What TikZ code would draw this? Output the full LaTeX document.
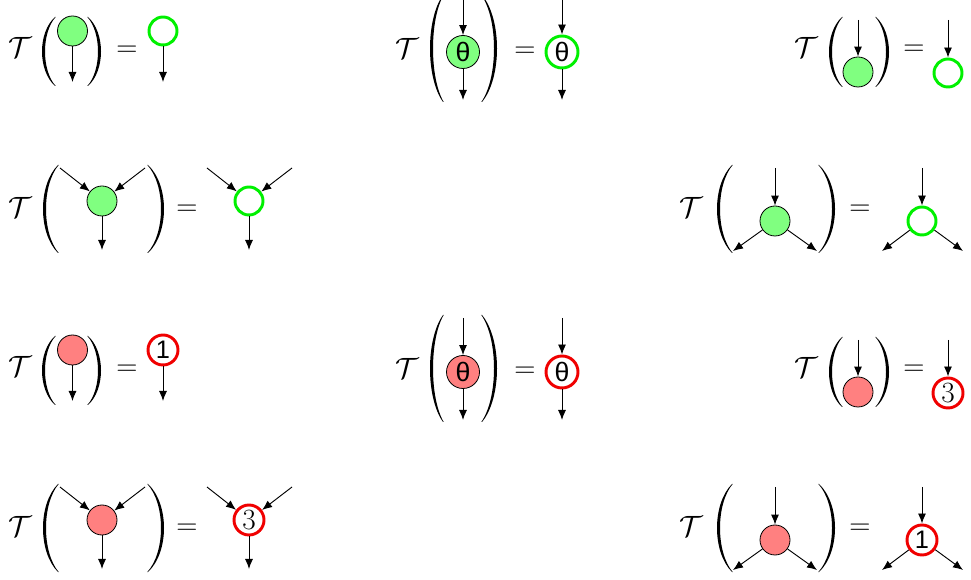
\documentclass[tikz,border=0pt]{standalone}
\usepackage{fix-cm}
\usepackage{fontspec}
\newfontfamily\lsans{Liberation Sans}
\usetikzlibrary{arrows.meta}
\definecolor{gfc}{RGB}{128,255,128}
\definecolor{rfc}{RGB}{255,128,128}
\definecolor{grc}{RGB}{0,240,0}
\definecolor{rrc}{RGB}{240,0,0}
\tikzset{
  lbl/.style={font=\fontsize{22}{26}\selectfont, inner sep=0pt},
  wire/.style={-{Latex[length=7.5pt,width=6pt]}, line width=0.7pt},
  gfill/.style={circle, draw=black, line width=0.6pt, fill=gfc, minimum size=22.5pt, inner sep=0pt},
  rfill/.style={gfill, fill=rfc},
  gring/.style={circle, draw=grc, line width=2.2pt, minimum size=21pt, inner sep=0pt},
  rring/.style={gring, draw=rrc, minimum size=22.5pt},
  thfill/.style={minimum size=24.75pt},
  thring/.style={minimum size=24pt},
}
\newcommand\thsym{{\lsans\fontsize{20}{22}\selectfont θ}}
\newcommand\onesym{{\lsans\fontsize{19}{22}\selectfont 1}}
\newcommand\threesym{{\fontsize{22}{24}\selectfont 3}}
% left paren: x = leftmost, y = centre, h = half height, w = bulge
\newcommand\parL[4]{%
  \fill ({#1+#4},{#2-#3}) .. controls ({#1-#4/3},{#2-0.55*#3}) and ({#1-#4/3},{#2+0.55*#3}) .. ({#1+#4},{#2+#3})
    -- ({#1+#4+0.7},{#2+#3}) .. controls ({#1+(22.6-2*#4)/6},{#2+0.55*#3}) and ({#1+(22.6-2*#4)/6},{#2-0.55*#3}) .. ({#1+#4+0.7},{#2-#3}) -- cycle;}
\newcommand\parR[4]{%
  \fill ({#1-#4},{#2-#3}) .. controls ({#1+#4/3},{#2-0.55*#3}) and ({#1+#4/3},{#2+0.55*#3}) .. ({#1-#4},{#2+#3})
    -- ({#1-#4-0.7},{#2+#3}) .. controls ({#1-(22.6-2*#4)/6},{#2+0.55*#3}) and ({#1-(22.6-2*#4)/6},{#2-0.55*#3}) .. ({#1-#4-0.7},{#2-#3}) -- cycle;}
% panel types
\newcommand\panA[5]{%
  \node[lbl] (#1T) at (20,47+#2) {$\mathcal{T}$};
  \parL{42}{51.5+#2}{34.5}{13}
  \node[#3] (#1c) at (72.5,31+#2) {};
  \coordinate (#1e) at (72.5,82+#2);
  \draw[wire] (#1c) -- (#1e);
  \parR{101}{51.5+#2}{34.5}{13}
  \node[lbl] (#1q) at (127,51+#2) {$=$};
  \node[#4] (#1r) at (163,31+#2) {#5};
  \coordinate (#1f) at (163,82+#2);
  \draw[wire] (#1r) -- (#1f);
}
\newcommand\panB[4]{%
  \node[lbl] (#1T) at (407,48+#2) {$\mathcal{T}$};
  \parL{430}{48.5+#2}{53.5}{13}
  \coordinate (#1a) at (463,-2+#2);
  \node[#3, thfill] (#1c) at (463,52+#2) {\thsym};
  \coordinate (#1e) at (463,100+#2);
  \draw[wire] (#1a) -- (#1c);
  \draw[wire] (#1c) -- (#1e);
  \parR{497}{48.5+#2}{53.5}{15}
  \node[lbl] (#1q) at (525,52+#2) {$=$};
  \coordinate (#1b) at (562,-2+#2);
  \node[#4, thring] (#1r) at (562,52+#2) {\thsym};
  \coordinate (#1f) at (562,100+#2);
  \draw[wire] (#1b) -- (#1r);
  \draw[wire] (#1r) -- (#1f);
}
\newcommand\panC[5]{%
  \node[lbl] (#1T) at (806,47+#2) {$\mathcal{T}$};
  \parL{829}{52+#2}{35}{13}
  \coordinate (#1a) at (858,20+#2);
  \node[#3] (#1c) at (858,72+#2) {};
  \draw[wire] (#1a) -- (#1c);
  \parR{889}{52+#2}{35}{13}
  \node[lbl] (#1q) at (914,50.5+#2) {$=$};
  \coordinate (#1b) at (948,20+#2);
  \node[#4] (#1r) at (948,73+#2) {#5};
  \draw[wire] (#1b) -- (#1r);
}
\newcommand\panD[5]{%
  \node[lbl] (#1T) at (20,207+#2) {$\mathcal{T}$};
  \parL{43}{209+#2}{44}{15}
  \coordinate (#1a) at (60,168+#2);
  \coordinate (#1b) at (145,168+#2);
  \node[#3] (#1c) at (102,201+#2) {};
  \coordinate (#1e) at (102,250+#2);
  \draw[wire] (#1a) -- (#1c);
  \draw[wire] (#1b) -- (#1c);
  \draw[wire] (#1c) -- (#1e);
  \parR{164}{209+#2}{44}{16}
  \node[lbl] (#1q) at (187,210+#2) {$=$};
  \coordinate (#1g) at (207,168+#2);
  \coordinate (#1h) at (292,168+#2);
  \node[#4] (#1r) at (249,201+#2) {#5};
  \coordinate (#1f) at (249,250+#2);
  \draw[wire] (#1g) -- (#1r);
  \draw[wire] (#1h) -- (#1r);
  \draw[wire] (#1r) -- (#1f);
}
\newcommand\panE[5]{%
  \node[lbl] (#1T) at (691,207+#2) {$\mathcal{T}$};
  \parL{717}{209+#2}{44}{15}
  \coordinate (#1a) at (775,168+#2);
  \node[#3] (#1c) at (775,221+#2) {};
  \coordinate (#1e) at (733,251+#2);
  \coordinate (#1f) at (817,251+#2);
  \draw[wire] (#1a) -- (#1c);
  \draw[wire] (#1c) -- (#1e);
  \draw[wire] (#1c) -- (#1f);
  \parR{835}{209+#2}{44}{16}
  \node[lbl] (#1q) at (860,210+#2) {$=$};
  \coordinate (#1b) at (922,168+#2);
  \node[#4] (#1r) at (922,221+#2) {#5};
  \coordinate (#1g) at (882,251+#2);
  \coordinate (#1h) at (963,251+#2);
  \draw[wire] (#1b) -- (#1r);
  \draw[wire] (#1r) -- (#1g);
  \draw[wire] (#1r) -- (#1h);
}
\begin{document}
\begin{tikzpicture}[x=0.75pt, y=-0.75pt]
  \useasboundingbox (0,0) rectangle (971,580);
  \panA{ga}{0}{gfill}{gring}{}
  \panB{gb}{0}{gfill}{gring}
  \panC{gc}{0}{gfill}{gring}{}
  \panD{gd}{0}{gfill}{gring}{}
  \panE{ge}{0}{gfill}{gring}{}
  \panA{ra}{319}{rfill}{rring}{\onesym}
  \panB{rb}{320}{rfill}{rring}
  \panC{rc}{320}{rfill}{rring}{\threesym}
  \panD{rd}{319}{rfill}{rring}{\threesym}
  \panE{re}{319}{rfill}{rring}{\onesym}
\end{tikzpicture}
\end{document}
